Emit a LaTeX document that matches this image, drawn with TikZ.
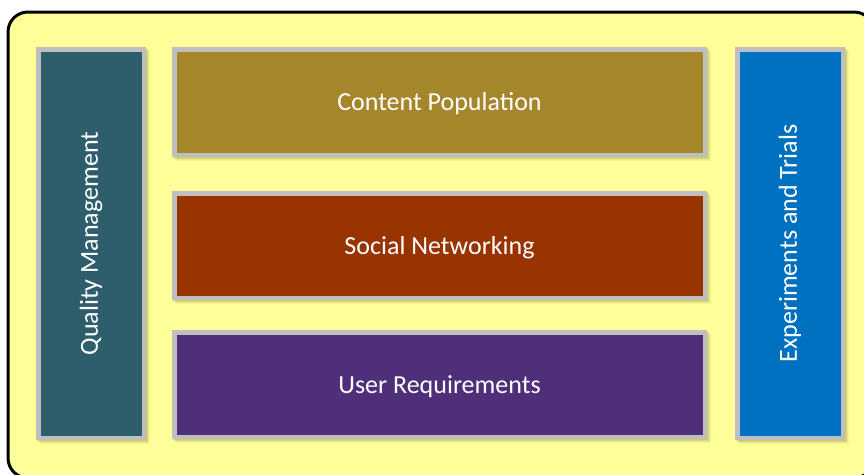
\documentclass[tikz,border=0pt]{standalone}
\usepackage{fontspec}
\setmainfont{Carlito}
\definecolor{bgyellow}{HTML}{FFFF99}
\definecolor{qmcol}{HTML}{2E5E6C}
\definecolor{cpcol}{HTML}{A6862A}
\definecolor{sncol}{HTML}{993300}
\definecolor{urcol}{HTML}{4F2F7A}
\definecolor{etcol}{HTML}{0070C0}
\definecolor{rimgray}{HTML}{BFBFBF}
\definecolor{shadowcol}{HTML}{9E9E50}
\tikzset{
  panel/.style={draw=rimgray, line width=4.5pt, inner sep=0pt, outer sep=0pt, anchor=north west},
  label/.style={text=white, font=\fontsize{26}{30}\selectfont},
}
\newcommand{\mypanel}[6]{%
  % #1 name, #2 x, #3 y, #4 w, #5 h, #6 color
  \foreach \o/\a in {6/0.10,5/0.15,4/0.2,3/0.25}{
    \fill[shadowcol, opacity=\a] (#2+\o-2,#3+\o-2) rectangle (#2+#4+\o-2,#3+#5+\o-2);
  }
  \node[panel, fill=#6, minimum width=#4pt-4.5pt, minimum height=#5pt-4.5pt] (#1) at (#2+2.25,#3+2.25) {};
}
\begin{document}
\begin{tikzpicture}[x=1pt,y=-1pt]
\useasboundingbox (0,0) rectangle (864,474);
\fill[white] (0,0) rectangle (864,474);
\draw[line width=3pt, fill=bgyellow, rounded corners=20pt] (8,12) rectangle (874,478);
\mypanel{qm}{36}{47}{110}{393}{qmcol}
\mypanel{cp}{172}{47}{535}{110}{cpcol}
\mypanel{sn}{172}{191}{535}{109}{sncol}
\mypanel{ur}{172}{330}{535}{109}{urcol}
\mypanel{et}{735}{47}{110}{393}{etcol}
\node[label, rotate=90] (qmt) at (qm.center) {Quality Management};
\node[label] (cpt) at ([yshift=-2pt]cp.center) {Content Population};
\node[label] (snt) at ([yshift=-2pt]sn.center) {Social Networking};
\node[label] (urt) at ([yshift=-2pt]ur.center) {User Requirements};
\node[label, rotate=90] (ett) at (et.center) {Experiments and Trials};
\end{tikzpicture}
\end{document}
